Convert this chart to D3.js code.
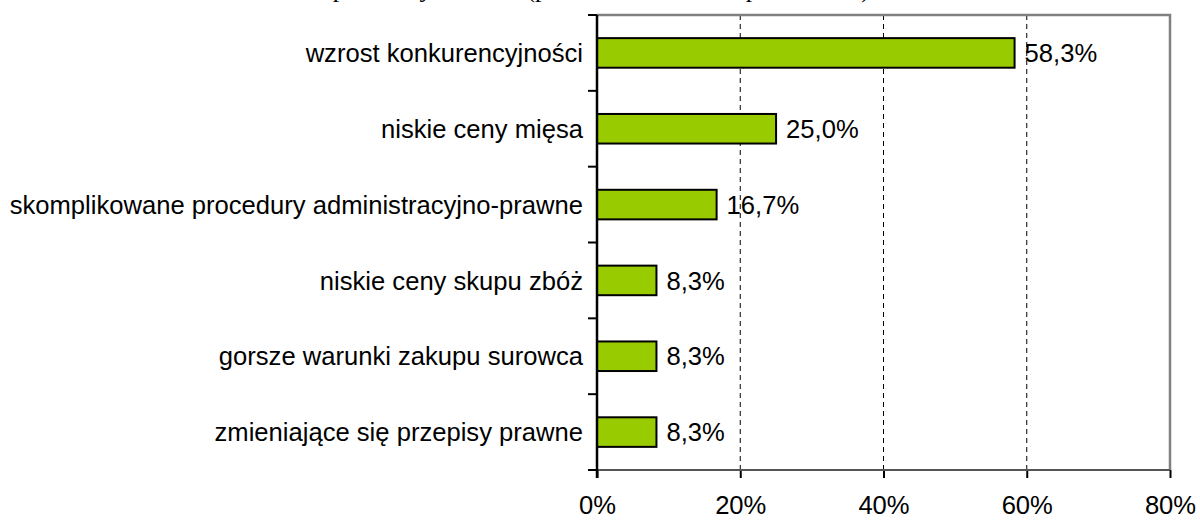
<!DOCTYPE html>
<html>
<head>
<meta charset="utf-8">
<script src="https://cdn.jsdelivr.net/npm/d3@7"></script>
<style>
  body { margin: 0; background: #fff; }
  svg { display: block; }
</style>
</head>
<body>
<script>
  var categories = [
    "wzrost konkurencyjności",
    "niskie ceny mięsa",
    "skomplikowane procedury administracyjno-prawne",
    "niskie ceny skupu zbóż",
    "gorsze warunki zakupu surowca",
    "zmieniające się przepisy prawne"
  ];
  var values = [58.3, 25.0, 16.7, 8.3, 8.3, 8.3];
  var xTicks = [0, 20, 40, 60, 80];
  var title = "Istotne problemy obecnie (procent wskazań respondentów)";

  var width = 1200, height = 521;
  var margin = {top: 15, right: 30, bottom: 51, left: 597};
  var w = width - margin.left - margin.right,
      h = height - margin.top - margin.bottom;

  var svg = d3.select("body").append("svg")
      .attr("width", width)
      .attr("height", height);

  // title, mostly cut off by the top edge
  svg.append("text")
      .attr("x", 870)
      .attr("y", -3)
      .attr("text-anchor", "end")
      .attr("font-family", "'Liberation Serif', 'Times New Roman', serif")
      .attr("font-size", "26px")
      .attr("fill", "#000")
      .text(title);

  var g = svg.append("g")
      .attr("transform", "translate(" + margin.left + "," + margin.top + ")");

  var xScale = d3.scaleLinear().domain([0, 80]).range([0, w]);
  var yScale = d3.scaleBand().domain(categories).range([0, h]).padding(0);

  // dashed grid
  g.selectAll(".grid")
    .data(xTicks.filter(function(d) { return d > 0 && d < 80; }))
    .enter().append("line")
      .attr("x1", function(d) { return xScale(d); })
      .attr("x2", function(d) { return xScale(d); })
      .attr("y1", 0)
      .attr("y2", h)
      .attr("stroke", "#000")
      .attr("stroke-width", 1)
      .attr("stroke-dasharray", "5,4");

  // plot border (top + right)
  g.append("path")
      .attr("d", "M0,0H" + w + "V" + h)
      .attr("fill", "none")
      .attr("stroke", "#808080")
      .attr("stroke-width", 2.5);

  // bars
  var barH = yScale.bandwidth() * 0.39;
  g.selectAll(".bar")
    .data(values)
    .enter().append("rect")
      .attr("x", xScale(0))
      .attr("y", function(d, i) { return yScale(categories[i]) + (yScale.bandwidth() - barH) / 2; })
      .attr("width", function(d) { return xScale(d) - xScale(0); })
      .attr("height", barH)
      .attr("fill", "#99cc00")
      .attr("stroke", "#000")
      .attr("stroke-width", 2);

  // value labels
  g.selectAll(".val")
    .data(values)
    .enter().append("text")
      .attr("x", function(d) { return xScale(d) + 10; })
      .attr("y", function(d, i) { return yScale(categories[i]) + yScale.bandwidth() / 2; })
      .attr("dy", "0.36em")
      .attr("font-family", "'Liberation Sans', Arial, sans-serif")
      .attr("font-size", "25.6px")
      .attr("fill", "#000")
      .text(function(d) { return d3.format(".1f")(d).replace(".", ",") + "%"; });

  // bottom axis
  var xAxis = g.append("g")
      .attr("transform", "translate(0," + h + ")")
      .call(d3.axisBottom(xScale).tickValues(xTicks).tickSize(8).tickPadding(18)
        .tickFormat(function(d) { return d + "%"; }));
  xAxis.select(".domain").remove();
  xAxis.append("line")
      .attr("x1", -9).attr("x2", w)
      .attr("stroke", "#555").attr("stroke-width", 2);
  xAxis.selectAll(".tick line").attr("stroke", "#000").attr("stroke-width", 2);
  xAxis.selectAll(".tick text")
      .attr("font-family", "'Liberation Sans', Arial, sans-serif")
      .attr("font-size", "25.6px")
      .attr("fill", "#000");

  // left axis: category boundaries as ticks, labels at band centres
  var bounds = categories.map(function(c) { return yScale(c); }).concat([h]);
  g.selectAll(".ytick")
    .data(bounds)
    .enter().append("line")
      .attr("x1", -9).attr("x2", 0)
      .attr("y1", function(d) { return d; })
      .attr("y2", function(d) { return d; })
      .attr("stroke", "#000")
      .attr("stroke-width", 2);
  g.append("line")
      .attr("x1", 0).attr("x2", 0)
      .attr("y1", 0).attr("y2", h + 8)
      .attr("stroke", "#000")
      .attr("stroke-width", 2.5);

  g.selectAll(".cat")
    .data(categories)
    .enter().append("text")
      .attr("x", -14)
      .attr("y", function(d) { return yScale(d) + yScale.bandwidth() / 2; })
      .attr("dy", "0.36em")
      .attr("text-anchor", "end")
      .attr("font-family", "'Liberation Sans', Arial, sans-serif")
      .attr("font-size", "25.6px")
      .attr("fill", "#000")
      .text(function(d) { return d; });
</script>
</body>
</html>
